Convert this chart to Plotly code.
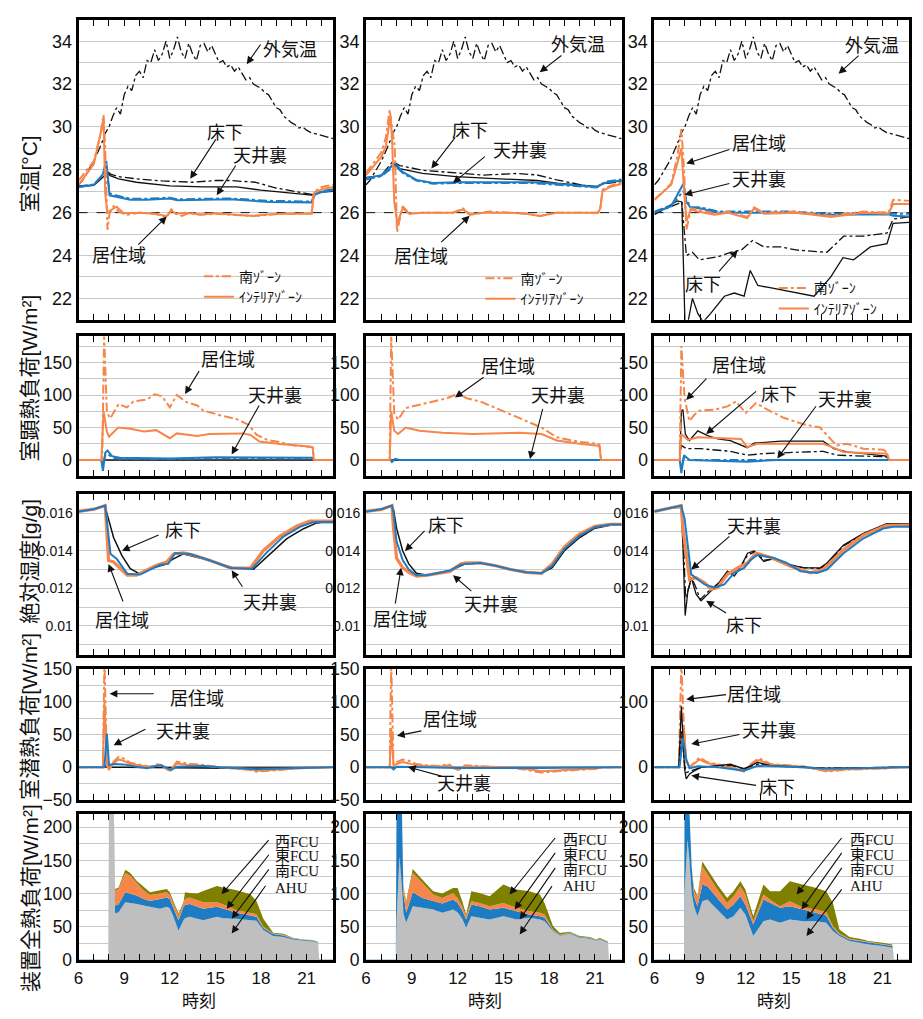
import plotly.graph_objects as go

W, H = 923, 1019
JP = "Noto Sans CJK JP"
SANS = "Liberation Sans, Noto Sans CJK JP"
SERIF = "Liberation Serif, Noto Sans CJK JP"

# ---------------- data ----------------
X_TICKS = [6, 9, 12, 15, 18, 21]

# outdoor air temperature (same day for all cases)
OUT_H = [6.0, 6.25, 6.5, 6.75, 7.0, 7.25, 7.5, 7.75, 8.0, 8.25, 8.5, 8.75, 9.0, 9.25, 9.5, 9.75,
         10.0, 10.25, 10.5, 10.75, 11.0, 11.25, 11.5, 11.75, 12.0, 12.25, 12.5, 12.75, 13.0, 13.25,
         13.5, 13.75, 14.0, 14.25, 14.5, 14.75, 15.0, 15.25, 15.5, 15.75, 16.0, 16.25, 16.5, 16.75,
         17.0, 17.25, 17.5, 17.75, 18.0, 18.25, 18.5, 18.75, 19.0, 19.25, 19.5, 19.75, 20.0, 20.25,
         20.5, 20.75, 21.0, 21.25, 21.5, 21.75, 22.0, 22.25, 22.5, 22.75]
OUT_T = [27.3, 27.5, 27.8, 28.1, 28.4, 28.8, 29.2, 29.7, 30.0, 30.5, 30.9, 30.6, 31.5, 31.9, 31.7, 32.4,
         32.6, 32.3, 33.1, 33.0, 33.6, 33.1, 33.4, 34.0, 33.2, 33.6, 34.2, 33.5, 33.2, 33.9,
         33.4, 33.1, 33.8, 33.9, 33.5, 33.8, 33.4, 33.0, 33.1, 32.8, 32.9, 32.6, 32.8, 32.5,
         32.2, 32.3, 32.0, 31.9, 31.8, 31.6, 31.5, 31.2, 30.9, 30.8, 30.5, 30.35, 30.2, 30.1,
         29.95, 30.0, 29.85, 29.75, 29.7, 29.65, 29.6, 29.55, 29.5, 29.45]
SET_H = [6.0, 22.75]
SET_T = [26.0, 26.0]
ZERO_H = [6.0, 22.75]
ZERO_V = [0.0, 0.0]

# ---- row 1 : room temperature ----
T1_OS_H = [6.0, 7.0, 7.42, 7.64, 7.75, 7.9, 8.04, 8.3, 8.63, 9.2, 10.0, 11.0, 11.5, 11.8, 12.1, 12.4, 12.8,
           13.3, 14.0, 15.0, 16.0, 17.0, 17.5, 18.5, 19.5, 20.5, 21.33, 21.48, 22.0, 22.75]
T1_OS_V = [27.5, 28.4, 29.6, 30.56, 29.0, 25.2, 25.97, 26.3, 26.05, 25.9, 26.0, 25.95, 25.85, 25.8, 26.15,
           25.95, 25.85, 26.0, 25.9, 25.95, 25.9, 25.85, 25.85, 25.9, 25.95, 25.95, 25.97, 26.96, 27.2, 27.3]
T1_OI_H = [6.0, 7.0, 7.53, 7.64, 7.75, 7.9, 8.08, 8.5, 8.96, 10.0, 11.0, 11.8, 12.1, 12.4, 13.0, 14.0,
           15.0, 16.0, 17.0, 17.5, 18.5, 19.5, 21.33, 21.48, 22.0, 22.75]
T1_OI_V = [27.3, 28.27, 29.95, 30.4, 26.9, 25.97, 26.1, 26.28, 25.97, 26.0, 25.95, 25.85, 26.1, 25.95,
           26.0, 25.92, 25.97, 25.92, 25.85, 25.85, 25.92, 25.95, 25.95, 26.9, 27.1, 27.2]
T1_B_H = [6.0, 7.0, 7.6, 7.82, 8.04, 8.5, 9.4, 10.5, 12.0, 12.5, 14.2, 16.0, 18.6, 21.33, 21.55, 22.0, 22.75]
T1_BI_V = [27.2, 27.3, 27.8, 28.42, 26.81, 26.74, 26.6, 26.6, 26.66, 26.58, 26.6, 26.62, 26.5, 26.48,
           26.85, 26.96, 27.05]
T1_BS_V = [27.2, 27.32, 27.75, 28.2, 26.9, 26.8, 26.65, 26.65, 26.7, 26.62, 26.65, 26.66, 26.55, 26.52,
           26.9, 27.0, 27.1]
T1_KI_H = [6.0, 7.0, 7.6, 7.86, 8.08, 8.63, 9.8, 12.0, 14.2, 16.4, 18.0, 20.8, 21.33, 21.55, 22.0, 22.75]
T1_KI_V = [27.2, 27.27, 27.65, 27.88, 27.73, 27.58, 27.42, 27.25, 27.2, 27.2, 27.05, 26.86, 26.82, 26.9,
           26.96, 27.0]
T1_KS_H = [6.0, 7.0, 7.6, 7.86, 8.1, 8.63, 9.8, 11.5, 13.5, 15.0, 16.0, 17.6, 19.0, 20.8, 21.33, 21.55,
           22.0, 22.75]
T1_KS_V = [27.25, 27.3, 27.7, 27.95, 27.8, 27.68, 27.58, 27.48, 27.42, 27.5, 27.5, 27.42, 27.15, 26.9,
           26.85, 26.95, 27.0, 27.05]

T2_OS_H = [6.0, 7.0, 7.3, 7.55, 7.7, 7.88, 8.03, 8.4, 8.85, 9.7, 11.7, 12.35, 12.8, 13.7, 14.1, 15.4,
           16.5, 17.4, 18.5, 21.2, 21.35, 21.5, 22.0, 22.75]
T2_OS_V = [27.85, 28.8, 29.5, 30.8, 30.0, 29.1, 25.1, 26.3, 25.95, 26.0, 26.0, 26.2, 25.9, 26.0, 26.05,
           26.0, 25.95, 25.85, 26.0, 26.0, 26.2, 27.07, 27.25, 27.4]
T2_OI_H = [6.0, 7.0, 7.3, 7.6, 7.7, 7.85, 8.05, 8.4, 8.85, 9.7, 11.7, 12.35, 12.8, 13.7, 15.4, 16.5,
           17.4, 18.5, 21.2, 21.35, 21.5, 22.0, 22.75]
T2_OI_V = [27.75, 28.6, 29.1, 30.5, 29.5, 26.5, 25.5, 26.2, 25.95, 26.0, 26.0, 26.15, 25.92, 26.0, 26.0,
           25.95, 25.85, 26.0, 26.0, 26.2, 27.0, 27.2, 27.35]
T2_KI_H = [6.0, 7.0, 7.77, 8.2, 9.7, 11.9, 14.1, 17.2, 18.5, 21.1, 21.5, 22.75]
T2_KI_V = [27.65, 27.72, 28.25, 28.06, 27.83, 27.68, 27.6, 27.5, 27.38, 27.22, 27.35, 27.5]
T2_KS_H = [6.0, 7.0, 7.77, 8.2, 9.7, 11.0, 12.4, 13.7, 15.9, 17.2, 18.5, 20.65, 21.2, 21.5, 22.75]
T2_KS_V = [27.6, 27.75, 28.4, 28.2, 27.98, 27.9, 27.83, 27.75, 27.83, 27.76, 27.53, 27.22, 27.2, 27.35,
           27.45]
T2_B_H = [6.0, 7.0, 7.9, 8.4, 9.3, 10.4, 11.9, 14.1, 16.9, 18.5, 21.1, 21.7, 22.75]
T2_BI_V = [27.6, 27.75, 28.3, 27.9, 27.53, 27.38, 27.42, 27.42, 27.42, 27.35, 27.2, 27.4, 27.5]
T2_BS_V = [27.55, 27.7, 28.2, 27.85, 27.5, 27.35, 27.38, 27.38, 27.38, 27.3, 27.18, 27.45, 27.55]

T3_O_H = [6.0, 7.1, 7.5, 7.77, 7.95, 8.1, 8.4, 8.85, 9.95, 10.8, 12.1, 12.55, 13.2, 15.4, 17.6, 19.75,
          21.4, 21.7, 22.75]
T3_OS_V = [26.6, 27.35, 28.6, 29.9, 28.0, 25.2, 26.2, 26.15, 25.95, 26.05, 25.8, 26.25, 26.0, 26.05,
           25.85, 26.05, 26.0, 26.6, 26.55]
T3_OI_V = [26.6, 27.3, 28.3, 29.0, 27.0, 25.6, 26.15, 26.05, 25.9, 26.0, 25.75, 26.2, 25.95, 26.0, 25.8,
           26.0, 25.95, 26.4, 26.4]
T3_B_H = [6.0, 7.1, 7.9, 8.1, 8.4, 9.0, 10.2, 12.0, 15.0, 17.6, 21.4, 21.7, 22.75]
T3_BI_V = [26.0, 26.3, 27.35, 26.5, 26.2, 26.2, 26.0, 26.0, 26.0, 25.9, 25.92, 25.85, 25.82]
T3_BS_V = [26.05, 26.35, 27.0, 26.6, 26.25, 26.25, 26.05, 26.05, 26.05, 25.95, 26.0, 25.95, 25.95]
T3_KI_H = [6.0, 7.5, 7.8, 8.0, 8.1, 8.5, 8.85, 9.2, 9.7, 10.6, 11.25, 11.9, 12.3, 12.8, 13.6, 14.7,
           16.5, 17.6, 18.4, 19.1, 20.2, 21.3, 21.7, 22.75]
T3_KI_V = [25.9, 26.55, 26.5, 21.0, 20.5, 22.0, 21.3, 20.9, 21.3, 22.1, 22.25, 22.1, 23.3, 22.6, 22.5,
           22.35, 22.1, 23.0, 23.9, 23.8, 24.4, 24.55, 25.5, 25.55]
T3_KS_H = [6.0, 7.8, 8.1, 8.5, 8.95, 10.2, 11.0, 11.7, 12.45, 13.2, 14.3, 15.4, 17.35, 18.45, 19.7,
           21.3, 21.7, 22.75]
T3_KS_V = [25.95, 26.5, 24.0, 24.15, 23.8, 23.95, 24.15, 24.25, 24.7, 24.4, 24.4, 24.25, 24.15, 24.9,
           24.9, 25.05, 25.7, 25.8]

# ---- row 2 : sensible load ----
S1_OS_H = [6.0, 7.55, 7.68, 7.86, 8.08, 8.63, 9.17, 9.6, 10.5, 11.0, 11.5, 12.0, 12.46, 13.1, 13.8,
           14.2, 15.3, 16.4, 17.2, 17.7, 18.4, 19.25, 20.1, 21.2, 21.4, 21.48, 22.75]
S1_OS_V = [0, 0, 192, 73.8, 64, 86, 81, 90, 93, 101, 98, 81, 100, 89, 84, 76, 69, 63, 54, 39, 31,
           27.6, 22.6, 21, 19.6, 0, 0]
S1_OI_H = [6.0, 7.5, 7.64, 7.86, 8.0, 8.6, 9.4, 10.3, 11.1, 12.0, 12.46, 13.8, 14.6, 16.8, 17.3, 17.9,
           19.25, 21.2, 21.4, 21.48, 22.75]
S1_OI_V = [0, 0, 75, 43.6, 36, 50, 48, 44, 46, 33.6, 41, 37, 40, 41, 38.6, 28.6, 24.6, 21, 19, 0, 0]
S1_B_H = [6.0, 7.5, 7.6, 7.75, 7.9, 8.2, 8.7, 12.0, 15.0, 17.0, 21.4, 21.48, 22.75]
S1_BI_V = [0, 0, -16.6, 11, 14.6, 6, 3.5, 2.5, 4.5, 4.5, 3.5, 0, 0]
S1_BS_V = [0, 0, -12, 8, 10, 4, 2, 1.5, 3, 3, 2.5, 0, 0]

S2_OS_H = [6.0, 7.55, 7.65, 7.85, 8.1, 8.6, 9.5, 10.5, 11.3, 12.0, 12.6, 13.5, 14.5, 15.5, 16.5, 17.5,
           18.5, 20.0, 21.2, 21.3, 21.4, 22.75]
S2_OS_V = [0, 0, 190, 72, 62, 80, 85, 90, 95, 102, 95, 90, 80, 70, 60, 50, 35, 28, 25, 23, 0, 0]
S2_OI_H = [6.0, 7.55, 7.65, 7.85, 8.1, 8.6, 9.5, 11.0, 13.0, 16.0, 17.5, 18.5, 20.0, 21.2, 21.3, 21.4,
           22.75]
S2_OI_V = [0, 0, 75, 45, 40, 50, 45, 42, 40, 42, 40, 30, 25, 22, 20, 0, 0]
S2_B_H = [6.0, 7.6, 7.7, 7.9, 8.2, 22.75]
S2_B_V = [0, 0, -3, 2, 0, 0]

S3_OS_H = [6.0, 7.66, 7.77, 7.98, 8.3, 8.64, 8.96, 9.94, 10.8, 11.36, 12.0, 12.67, 13.65, 14.5, 15.8,
           16.9, 17.57, 18.0, 18.66, 19.75, 21.05, 21.27, 21.45, 22.75]
S3_OS_V = [0, 0, 175, 95, 60, 70, 76, 77.5, 82.5, 90, 72.5, 87.5, 75, 65, 55, 50, 32.5, 22.5, 25, 17.5,
           16, 12.5, 0, 0]
S3_OI_H = [6.0, 7.66, 7.77, 8.2, 8.85, 9.94, 11.7, 12.1, 12.78, 15.0, 17.1, 17.57, 18.44, 19.75, 21.27,
           21.45, 22.75]
S3_OI_V = [0, 0, 40, 31, 35, 34, 32.5, 20, 25, 25, 25, 21, 12.5, 11, 10, 0, 0]
S3_KI_H = [6.0, 7.66, 7.77, 7.87, 8.03, 8.3, 8.85, 9.5, 10.16, 11.0, 12.1, 12.56, 14.3, 17.1, 17.8,
           18.66, 19.75, 21.27, 21.45, 22.75]
S3_KI_V = [0, 0, 75, 77.5, 40, 30, 45, 37.5, 32.5, 30, 19, 26, 29, 29, 17.5, 12.5, 10, 6, 0, 0]
S3_KS_H = [6.0, 7.66, 7.77, 8.1, 9.0, 11.0, 12.1, 13.2, 17.1, 18.0, 21.27, 21.45, 22.75]
S3_KS_V = [0, 0, 22.5, 17.5, 17.5, 13.5, 7.5, 10, 13.5, 7.5, 5, 0, 0]
S3_B_H = [6.0, 7.66, 7.77, 7.94, 8.3, 10.0, 12.1, 14.0, 21.45, 22.75]
S3_BI_V = [0, 0, -20, 7.5, 0, -1, -2.5, 0, 0, 0]
S3_BS_V = [0, 0, -12, 4, 0, 0, -1, 0, 0, 0]

# ---- row 3 : absolute humidity ----
X1_O_H = [6.0, 7.0, 7.75, 7.86, 7.97, 8.3, 8.74, 9.2, 9.8, 10.5, 11.1, 11.8, 12.24, 12.9, 13.55, 14.65,
          16.0, 17.3, 18.15, 19.25, 20.34, 21.2, 22.0, 22.75]
X1_O_V = [0.01609, 0.01621, 0.0164, 0.0146, 0.01348, 0.0134, 0.01304, 0.0127, 0.0127, 0.01296, 0.01322,
          0.0134, 0.01383, 0.01388, 0.01377, 0.01348, 0.01308, 0.01308, 0.0140, 0.01478, 0.0153,
          0.01557, 0.01557, 0.01557]
X1_B_H = [6.0, 7.0, 7.75, 7.86, 8.1, 8.5, 9.2, 10.05, 10.7, 11.36, 11.9, 12.35, 13.3, 14.65, 16.0, 17.4,
          18.37, 19.47, 20.56, 21.4, 22.0, 22.75]
X1_B_V = [0.01609, 0.01621, 0.0164, 0.01565, 0.01383, 0.01357, 0.01278, 0.01273, 0.013, 0.01325, 0.0133,
          0.01388, 0.01383, 0.01348, 0.01308, 0.01304, 0.0139, 0.01475, 0.01527, 0.01551, 0.01553,
          0.01553]
X1_K_H = [6.0, 7.0, 7.75, 7.86, 8.3, 8.85, 9.4, 10.05, 10.7, 11.6, 12.24, 12.9, 14.2, 16.2, 17.5, 18.6,
          19.7, 20.8, 21.66, 22.0, 22.75]
X1_K_V = [0.01609, 0.01621, 0.0164, 0.016, 0.0147, 0.01374, 0.01304, 0.01275, 0.01304, 0.01325, 0.01357,
          0.01383, 0.01357, 0.01308, 0.01301, 0.01383, 0.01464, 0.01517, 0.01548, 0.0155, 0.0155]

X2_H = [6.0, 7.0, 7.7, 7.8, 8.0, 8.4, 8.8, 9.3, 10.0, 10.7, 11.5, 12.2, 12.5, 13.5, 14.5, 15.5, 16.5,
        17.5, 18.2, 19.0, 20.0, 21.0, 22.0, 22.75]
X2_O_V = [0.01609, 0.0162, 0.0164, 0.0152, 0.0136, 0.0131, 0.01285, 0.01265, 0.0127, 0.0128, 0.0129,
          0.0133, 0.01335, 0.01335, 0.0132, 0.0130, 0.01285, 0.0128, 0.0133, 0.0142, 0.0149, 0.0153,
          0.0154, 0.0154]
X2_B_V = [0.01609, 0.0162, 0.0164, 0.0160, 0.0145, 0.0135, 0.0130, 0.0127, 0.0127, 0.0128, 0.01295,
          0.01325, 0.0133, 0.01335, 0.0132, 0.0130, 0.01285, 0.0128, 0.0132, 0.0141, 0.0148, 0.01525,
          0.0154, 0.0154]
X2_K_V = [0.01609, 0.0162, 0.0164, 0.0162, 0.0152, 0.0140, 0.0133, 0.0128, 0.0127, 0.0128, 0.0129,
          0.0132, 0.0133, 0.01335, 0.0132, 0.0130, 0.01285, 0.0128, 0.0131, 0.0140, 0.0147, 0.0152,
          0.01535, 0.01535]

X3_B_H = [6.0, 7.1, 7.76, 7.98, 8.2, 8.42, 8.85, 9.3, 9.94, 10.6, 11.25, 11.9, 12.34, 12.78, 13.86,
          14.7, 15.6, 16.7, 17.35, 18.44, 19.75, 21.05, 21.7, 22.75]
X3_B_V = [0.01609, 0.01626, 0.0164, 0.0157, 0.0143, 0.01274, 0.01247, 0.01221, 0.01204, 0.01221,
          0.01282, 0.01309, 0.01352, 0.01378, 0.01361, 0.01335, 0.01291, 0.01282, 0.013, 0.01387,
          0.01466, 0.01518, 0.01527, 0.01527]
X3_O_H = [6.0, 7.1, 7.76, 7.87, 8.09, 8.31, 8.74, 9.3, 9.73, 10.16, 10.8, 11.47, 12.12, 12.67, 13.65,
          14.95, 16.26, 17.1, 18.44, 19.75, 21.27, 22.75]
X3_O_V = [0.01609, 0.01626, 0.0164, 0.01518, 0.01378, 0.01247, 0.01256, 0.0123, 0.01195, 0.01204,
          0.01274, 0.01309, 0.01335, 0.01387, 0.01364, 0.01317, 0.01282, 0.013, 0.01405, 0.01483,
          0.01535, 0.01535]
X3_KI_H = [6.0, 7.1, 7.76, 7.87, 8.02, 8.2, 8.42, 8.74, 9.07, 9.5, 10.16, 10.8, 11.25, 11.7, 12.12,
           12.56, 13.2, 13.86, 14.72, 15.8, 16.9, 17.35, 18.44, 19.75, 21.27, 22.75]
X3_KI_V = [0.01609, 0.01626, 0.0163, 0.01431, 0.01055, 0.01186, 0.01256, 0.01169, 0.01134, 0.01169,
           0.01221, 0.01291, 0.01265, 0.01317, 0.01387, 0.01399, 0.01343, 0.01361, 0.0133, 0.01309,
           0.01309, 0.01335, 0.0143, 0.01492, 0.01544, 0.01542]
X3_KS_H = [6.0, 7.1, 7.76, 7.9, 8.05, 8.25, 8.45, 8.75, 9.0, 9.5, 10.16, 10.8, 11.3, 11.7, 12.12, 12.6,
           13.2, 13.86, 14.72, 15.8, 16.9, 17.35, 18.44, 19.75, 21.27, 22.75]
X3_KS_V = [0.01609, 0.01626, 0.0164, 0.0145, 0.0115, 0.0120, 0.01256, 0.0120, 0.0114, 0.0118, 0.01225,
           0.0128, 0.0128, 0.0132, 0.01375, 0.01395, 0.0135, 0.01355, 0.01328, 0.0131, 0.01305,
           0.0133, 0.01425, 0.01488, 0.0154, 0.0154]

# ---- row 4 : latent load ----
L1_O_H = [6.0, 7.6, 7.7, 7.86, 8.0, 8.3, 8.63, 8.96, 9.4, 10.3, 10.7, 11.36, 12.0, 12.46, 13.1, 14.2,
          15.3, 17.3, 17.7, 19.7, 21.2, 21.4, 22.75]
L1_OS_V = [0, 0, 165, 6, -4, 8.6, 16, 13.6, 7, 3.5, 1, 6, -6.6, 8.6, 6, 3.5, 0, -4, -6.6, -3, 0, 0, 0]
L1_OI_V = [0, 0, 100, 3, -3, 6, 12, 10, 5, 2.5, 0.5, 4, -5, 6, 4, 2.5, 0, -3, -5, -2.5, 0, 0, 0]
L1_B_H = [6.0, 7.7, 7.86, 8.0, 8.3, 8.96, 9.8, 10.5, 11.36, 12.1, 12.46, 14.2, 15.3, 17.3, 17.7, 20.5,
          22.75]
L1_B_V = [0, 0, 51.5, 3.5, 5, 4.5, 1, -1.5, 3.5, -4, 1, 2, 0, -3, -3, -1, 0]
L1_K_H = [6.0, 7.7, 7.86, 8.0, 9.0, 12.0, 17.5, 22.75]
L1_K_V = [0, 0, 3.5, 0, 0, -1, -2, 0]

L2_O_H = [6.0, 7.55, 7.65, 7.8, 8.0, 8.4, 8.8, 9.3, 10.0, 10.8, 11.4, 12.0, 12.5, 13.2, 14.0, 15.0,
          16.0, 17.0, 17.5, 18.5, 19.5, 20.5, 21.3, 21.4, 22.75]
L2_OS_V = [0, 0, 160, 5, 8, 12, 10, 5, 3, 2, 5, -5, 3, 2, 2, 0, -2, -6, -8, -6, -4, -3, -2, 0, 0]
L2_OI_V = [0, 0, 60, 3, 5, 8, 6, 3, 2, 1, 3, -4, 2, 1, 1, 0, -1, -4, -6, -5, -3, -2, -1, 0, 0]
L2_B_H = [6.0, 7.65, 7.8, 8.0, 9.0, 12.0, 17.5, 22.75]
L2_B_V = [0, 0, -3, 1, 0.5, -1, -1, 0]

L3_O_H = [6.0, 7.6, 7.77, 7.94, 8.09, 8.31, 8.96, 9.5, 10.16, 11.0, 11.9, 12.34, 12.88, 13.65, 14.74,
          15.8, 17.35, 18.66, 21.4, 21.5, 22.75]
L3_OS_V = [0, 0, 160, 58, 7.6, 0, 15, 7.6, 5, 0, -6.5, 5, 14, 5, 3.5, 1.5, -6.5, -3.5, -1.5, 0, 0]
L3_OI_V = [0, 0, 40, 60, 10, 0, 12, 6, 4, 0, -5, 4, 11, 4, 3, 1, -5, -3, -1, 0, 0]
L3_K_H = [6.0, 7.6, 7.77, 7.98, 8.09, 8.31, 8.64, 9.07, 10.16, 11.0, 11.9, 12.78, 13.65, 17.35, 21.4,
          22.75]
L3_KI_V = [0, 0, 93, -2.5, -17.7, -10, -5, 0, 2.5, 5, -2.5, 7.6, 2.5, -1.5, 0, 0]
L3_KS_V = [0, 0, 55, 5, -8, -6, -3, 0, 2, 3, -2, 5, 2, -1, 0, 0]
L3_B_H = [6.0, 7.65, 7.87, 8.09, 8.31, 8.85, 10.2, 11.9, 12.78, 15.0, 17.35, 21.4, 22.75]
L3_B_V = [0, 0, 45, 12.6, -1.5, 1.5, 0, -5, 2.5, 1, -2, 0, 0]

# ---- row 5 : equipment total load (stacked) ----
H5_1 = [6.0, 7.95, 8.0, 8.3, 8.4, 8.63, 9.07, 9.4, 9.83, 10.27, 10.7, 11.36, 11.8, 12.0, 12.24, 12.57,
        12.9, 13.0, 13.3, 13.8, 14.2, 15.1, 15.5, 16.4, 17.3, 17.7, 18.15, 18.8, 19.47, 20.1, 20.8,
        21.4, 21.76, 21.83, 22.75]
AHU1 = [0, 0, 235, 235, 70, 72, 87, 86, 84.5, 82, 80, 77, 80, 78, 65, 44, 60, 63, 65, 62, 60, 65, 63,
        62, 60, 59, 45, 36, 34.5, 31, 29, 28, 25.5, 0, 0]
SFCU1 = [0, 0, 15, 15, 12, 12, 15, 14, 12.5, 10, 9, 15, 14, 14, 14, 16, 20, 20, 19.5, 18, 17, 15, 14,
         9, 7, 6, 3, 3, 2.5, 1.5, 1, 1, 1, 0, 0]
EFCU1 = [0, 0, 0, 0, 23, 23, 29, 27, 19, 13, 9, 8, 8, 6, 7, 7, 4.5, 9, 9.5, 10, 10, 7, 7, 4, 4, 4, 2,
         1, 1, 0.5, 0.5, 0.5, 0, 0, 0]
WFCU1 = [0, 0, 0, 0, 2, 2, 5, 4, 3, 5, 4, 5, 5, 4, 3, 3, 2.5, 10, 7, 10, 17, 24.5, 25, 30, 28, 20, 12,
         1, 1.5, 0.5, 0.5, 0.5, 0.5, 0, 0]

H5_2 = [6.0, 7.95, 8.0, 8.19, 8.35, 8.45, 8.63, 9.06, 9.7, 10.4, 11.0, 11.7, 12.0, 12.3, 12.56, 12.9,
        13.44, 14.1, 15.0, 15.85, 16.7, 17.4, 17.7, 18.25, 18.7, 19.35, 20.0, 20.66, 21.1, 21.3, 21.86,
        21.92, 22.75]
AHU2 = [0, 0, 60, 156, 110, 70, 56, 81, 78.5, 76, 71, 76, 72, 62, 48.5, 66, 63.5, 61, 66, 61, 63.5, 61,
        58.5, 43.5, 36, 39.5, 33.5, 32, 28.5, 31, 26, 0, 0]
SFCU2 = [0, 0, 180, 80, 120, 30, 15, 21, 15, 12.5, 14, 15, 14, 13, 12.5, 17.5, 17.5, 15, 12.5, 12.5,
         5, 5, 5, 1.5, 1, 1, 1, 1, 1, 1, 1, 0, 0]
EFCU2 = [0, 0, 0, 0, 0, 10, 15, 29, 22.5, 10, 8.5, 10, 7.5, 6, 5, 5, 5, 5, 7.5, 5, 5, 5, 5, 1, 1, 1,
         0.5, 0.5, 0.5, 0.5, 0.5, 0, 0]
WFCU2 = [0, 0, 0, 0, 0, 2, 2.5, 6, 5, 5, 6.5, 7.5, 15, 8, 2.5, 15, 15, 15, 27.5, 27.5, 30, 27.5, 17.5,
         5, 2.5, 1, 1, 1, 1, 1, 0.5, 0, 0]

H5_3 = [6.0, 7.94, 7.98, 8.17, 8.28, 8.45, 8.6, 8.83, 9.15, 9.48, 10.13, 10.78, 11.2, 11.65, 11.98,
        12.5, 13.17, 13.6, 14.26, 14.9, 15.8, 16.65, 17.3, 17.74, 18.17, 18.83, 19.5, 20.1, 21.0, 21.65,
        21.76, 22.75]
AHU3 = [0, 0, 100, 181, 156, 100, 81, 66, 88.5, 91, 76, 61, 66, 78.5, 68.5, 36, 58.5, 61, 56, 61, 58.5,
        58.5, 56, 43.5, 36, 28.5, 26, 23.5, 21, 18.5, 0, 0]
SFCU3 = [0, 0, 140, 60, 80, 40, 15, 15, 25, 20, 17.5, 15, 17.5, 17.5, 15, 17.5, 32.5, 25, 22.5, 20,
         17.5, 12.5, 11, 5, 2.5, 2.5, 2.5, 2.5, 2.5, 2.5, 0, 0]
EFCU3 = [0, 0, 0, 0, 0, 0, 7.5, 12.5, 27.5, 17.5, 12.5, 10, 12.5, 15, 15, 5, 7.5, 5, 2.5, 7.5, 2.5, 5,
         5, 2.5, 1.5, 1, 1, 1, 1, 1, 0, 0]
WFCU3 = [0, 0, 0, 0, 0, 0, 5, 2.5, 7.5, 7.5, 7.5, 7.5, 7.5, 7.5, 7.5, 7.5, 15, 12.5, 22.5, 30, 35, 32.5,
         31.5, 35, 6, 2.5, 2.5, 1.5, 1.5, 1.5, 0, 0]

ROW_TITLES = ["室温[°C]", "室顕熱負荷[W/m²]", "絶対湿度[g/g]", "室潜熱負荷[W/m²]", "装置全熱負荷[W/m²]"]
LEGEND_NAMES = ["南ｿﾞｰﾝ", "ｲﾝﾃﾘｱｿﾞｰﾝ"]
STACK_NAMES = ["AHU", "南FCU", "東FCU", "西FCU"]

# ---------------- styling / layout ----------------
ORANGE = "#F7864A"
BLUE = "#1D7CC4"
BLACK = "#111111"
OLIVE = "#7F7F00"
GRAY = "#BFBFBF"

COLS_PX = [(74, 330), (363, 620), (653, 909)]
ROWS_PX = [(10, 316), (333, 475), (494, 658), (672, 806), (820, 969)]

fig = go.Figure()


def axn(r, c):
    return r * 3 + c + 1


def refs(r, c):
    n = axn(r, c)
    return ("x" if n == 1 else f"x{n}"), ("y" if n == 1 else f"y{n}")


def line(r, c, h, v, color, dash="solid", width=2.0, name="", legend=None):
    xr, yr = refs(r, c)
    fig.add_trace(go.Scatter(x=h, y=v, mode="lines", xaxis=xr, yaxis=yr, name=name,
                             line=dict(color=color, dash=dash, width=width),
                             showlegend=legend is not None, legend=legend or "legend",
                             hoverinfo="skip"))


def stack(c, h, layers, colors, group):
    xr, yr = refs(4, c)
    for nm, vals, col in zip(STACK_NAMES, layers, colors):
        fig.add_trace(go.Scatter(x=h, y=vals, mode="lines", xaxis=xr, yaxis=yr, name=nm,
                                 stackgroup=group, fillcolor=col,
                                 line=dict(color=col, width=0), showlegend=False,
                                 hoverinfo="skip"))


LEGS_S = ["legend", "legend2", "legend3"]
LEGS_I = ["legend4", "legend5", "legend6"]

# row 1
for c, (osh, osv, oih, oiv) in enumerate([(T1_OS_H, T1_OS_V, T1_OI_H, T1_OI_V),
                                          (T2_OS_H, T2_OS_V, T2_OI_H, T2_OI_V),
                                          (T3_O_H, T3_OS_V, T3_O_H, T3_OI_V)]):
    line(0, c, SET_H, SET_T, BLACK, "dash", 1.0)
    line(0, c, OUT_H, OUT_T, BLACK, "dashdot", 1.3)
    if c == 0:
        line(0, c, T1_KS_H, T1_KS_V, BLACK, "dashdot", 1.3)
        line(0, c, T1_KI_H, T1_KI_V, BLACK, "solid", 1.3)
        line(0, c, T1_B_H, T1_BS_V, BLUE, "dashdot", 2.0)
        line(0, c, T1_B_H, T1_BI_V, BLUE, "solid", 2.0)
    elif c == 1:
        line(0, c, T2_KS_H, T2_KS_V, BLACK, "dashdot", 1.3)
        line(0, c, T2_KI_H, T2_KI_V, BLACK, "solid", 1.3)
        line(0, c, T2_B_H, T2_BS_V, BLUE, "dashdot", 2.0)
        line(0, c, T2_B_H, T2_BI_V, BLUE, "solid", 2.0)
    else:
        line(0, c, T3_KS_H, T3_KS_V, BLACK, "dashdot", 1.3)
        line(0, c, T3_KI_H, T3_KI_V, BLACK, "solid", 1.3)
        line(0, c, T3_B_H, T3_BS_V, BLUE, "dashdot", 2.0)
        line(0, c, T3_B_H, T3_BI_V, BLUE, "solid", 2.0)
    line(0, c, osh, osv, ORANGE, "dashdot", 2.0, LEGEND_NAMES[0], LEGS_S[c])
    line(0, c, oih, oiv, ORANGE, "solid", 2.0, LEGEND_NAMES[1], LEGS_I[c])

# row 2
line(1, 0, ZERO_H, ZERO_V, BLACK, "solid", 1.5)
line(1, 0, S1_B_H, S1_BS_V, BLUE, "dashdot", 2.0)
line(1, 0, S1_B_H, S1_BI_V, BLUE, "solid", 2.0)
line(1, 0, S1_OS_H, S1_OS_V, ORANGE, "dashdot", 2.0)
line(1, 0, S1_OI_H, S1_OI_V, ORANGE, "solid", 2.0)
line(1, 1, ZERO_H, ZERO_V, BLACK, "solid", 1.5)
line(1, 1, S2_B_H, S2_B_V, BLUE, "solid", 2.0)
line(1, 1, S2_OS_H, S2_OS_V, ORANGE, "dashdot", 2.0)
line(1, 1, S2_OI_H, S2_OI_V, ORANGE, "solid", 2.0)
line(1, 2, S3_KS_H, S3_KS_V, BLACK, "dashdot", 1.3)
line(1, 2, S3_KI_H, S3_KI_V, BLACK, "solid", 1.3)
line(1, 2, S3_B_H, S3_BS_V, BLUE, "dashdot", 2.0)
line(1, 2, S3_B_H, S3_BI_V, BLUE, "solid", 2.0)
line(1, 2, S3_OS_H, S3_OS_V, ORANGE, "dashdot", 2.0)
line(1, 2, S3_OI_H, S3_OI_V, ORANGE, "solid", 2.0)

# row 3
line(2, 0, X1_K_H, X1_K_V, BLACK, "solid", 1.5)
line(2, 0, X1_O_H, X1_O_V, ORANGE, "solid", 3.2)
line(2, 0, X1_B_H, X1_B_V, BLUE, "solid", 2.0)
line(2, 1, X2_H, X2_K_V, BLACK, "solid", 1.5)
line(2, 1, X2_H, X2_O_V, ORANGE, "solid", 3.2)
line(2, 1, X2_H, X2_B_V, BLUE, "solid", 2.0)
line(2, 2, X3_KS_H, X3_KS_V, BLACK, "dashdot", 1.3)
line(2, 2, X3_KI_H, X3_KI_V, BLACK, "solid", 1.3)
line(2, 2, X3_O_H, X3_O_V, ORANGE, "solid", 3.2)
line(2, 2, X3_B_H, X3_B_V, BLUE, "solid", 2.0)

# row 4
line(3, 0, ZERO_H, ZERO_V, "#444444", "solid", 1.5)
line(3, 0, L1_K_H, L1_K_V, BLACK, "solid", 1.3)
line(3, 0, L1_O_H, L1_OS_V, ORANGE, "dashdot", 2.0)
line(3, 0, L1_O_H, L1_OI_V, ORANGE, "solid", 2.0)
line(3, 0, L1_B_H, L1_B_V, BLUE, "solid", 2.0)
line(3, 1, ZERO_H, ZERO_V, "#444444", "solid", 1.5)
line(3, 1, L2_O_H, L2_OS_V, ORANGE, "dashdot", 2.0)
line(3, 1, L2_O_H, L2_OI_V, ORANGE, "solid", 2.0)
line(3, 1, L2_B_H, L2_B_V, BLUE, "solid", 2.0)
line(3, 2, L3_O_H, L3_OS_V, ORANGE, "dashdot", 2.0)
line(3, 2, L3_O_H, L3_OI_V, ORANGE, "solid", 2.0)
line(3, 2, L3_K_H, L3_KS_V, BLACK, "dashdot", 1.3)
line(3, 2, L3_K_H, L3_KI_V, BLACK, "solid", 1.3)
line(3, 2, L3_B_H, L3_B_V, BLUE, "solid", 2.0)

# row 5 (zero baseline then stacks)
for c in range(3):
    line(4, c, ZERO_H, ZERO_V, "#7FA7C9", "solid", 1.2)
STACK_COLORS = [GRAY, BLUE, ORANGE, OLIVE]
stack(0, H5_1, [AHU1, SFCU1, EFCU1, WFCU1], STACK_COLORS, "s1")
stack(1, H5_2, [AHU2, SFCU2, EFCU2, WFCU2], STACK_COLORS, "s2")
stack(2, H5_3, [AHU3, SFCU3, EFCU3, WFCU3], STACK_COLORS, "s3")

# axes
Y_SPECS = [
    dict(range=[21, 35], dtick=2, tick0=0, minor=dict(dtick=1, showgrid=True, gridcolor="#C8C8C8"), size=18),
    dict(range=[-24, 190], dtick=50, tick0=0, minor=dict(dtick=25, showgrid=True, gridcolor="#C8C8C8"), size=17.5),
    dict(range=[0.00845, 0.0170], tickmode="array", tickvals=[0.010, 0.012, 0.014, 0.016],
         ticktext=["0.01", "0.012", "0.014", "0.016"],
         minor=dict(tickmode="linear", tick0=0, dtick=0.001, showgrid=True, gridcolor="#C8C8C8"), size=14),
    dict(range=[-50, 150], dtick=50, tick0=0, minor=dict(dtick=25, showgrid=True, gridcolor="#C8C8C8"), size=17.5),
    dict(range=[0, 220], dtick=50, tick0=0, minor=dict(dtick=25, showgrid=True, gridcolor="#C8C8C8"), size=17.5),
]

layout = dict(width=W, height=H, margin=dict(l=0, r=0, t=0, b=0), paper_bgcolor="white",
              plot_bgcolor="white", font=dict(family=SANS, color="#111111"))
for r in range(5):
    for c in range(3):
        n = axn(r, c)
        xk = "xaxis" if n == 1 else f"xaxis{n}"
        yk = "yaxis" if n == 1 else f"yaxis{n}"
        x0, x1 = COLS_PX[c]
        y0, y1 = ROWS_PX[r]
        xr, yr = refs(r, c)
        layout[xk] = dict(domain=[x0 / W, x1 / W], anchor=yr, range=[6, 22.75], showgrid=False,
                          zeroline=False, showline=True, linewidth=3, linecolor="black",
                          mirror="allticks", ticks="inside", ticklen=6, tickwidth=1, tickcolor="black",
                          tickmode="array", tickvals=X_TICKS, ticklabelstandoff=1,
                          minor=dict(dtick=1, tick0=6, ticks="inside", ticklen=6, tickcolor="black"),
                          showticklabels=(r == 4), tickfont=dict(size=17, family=SANS, color="#111"))
        spec = dict(Y_SPECS[r])
        size = spec.pop("size")
        if r == 3 and c == 2:
            spec["dtick"] = 100
            spec["minor"] = dict(dtick=50, showgrid=True, gridcolor="#C8C8C8")
        layout[yk] = dict(domain=[1 - y1 / H, 1 - y0 / H], anchor=xr, showgrid=True,
                          gridcolor="#C8C8C8", gridwidth=1, zeroline=False, showline=True,
                          linewidth=3, linecolor="black", mirror=True, ticks="",
                          tickfont=dict(size=size, family=SANS, color="#111"), **spec)

# legends: one entry each, placed like the reference
LEG_S_POS = [(195, 272), (478, 274), (773, 284)]
LEG_I_POS = [(195, 293), (478, 295), (773, 305)]
for keys, poss in ((LEGS_S, LEG_S_POS), (LEGS_I, LEG_I_POS)):
    for k, (lx, ly) in zip(keys, poss):
        layout[k] = dict(x=lx / W, y=1 - ly / H, xanchor="left", yanchor="middle",
                         bgcolor="rgba(0,0,0,0)", font=dict(family=JP, size=14, color="#111"),
                         tracegroupgap=0, itemwidth=30, traceorder="normal")

ann = []


def label(r, c, h, v, text, size=18, family=JP, xanchor="center"):
    xr, yr = refs(r, c)
    ann.append(dict(x=h, y=v, xref=xr, yref=yr, text=text, showarrow=False, xanchor=xanchor,
                    yanchor="middle", font=dict(size=size, family=family, color="#111")))


def arrow(r, c, th, tv, hh, hv):
    xr, yr = refs(r, c)
    ann.append(dict(x=hh, y=hv, xref=xr, yref=yr, ax=th, ay=tv, axref=xr, ayref=yr, text="",
                    showarrow=True, arrowhead=2, arrowsize=1.4, arrowwidth=1.1, arrowcolor="#111"))


# row 1 labels
label(0, 0, 19.9, 33.69, "外気温"); arrow(0, 0, 18.04, 33.92, 17.06, 32.93)
label(0, 0, 15.63, 29.8, "床下"); arrow(0, 0, 15.09, 29.49, 13.34, 27.58)
label(0, 0, 17.93, 28.72, "天井裏"); arrow(0, 0, 16.4, 28.27, 15.09, 26.81)
label(0, 0, 8.63, 24.06, "居住域"); arrow(0, 0, 9.83, 24.44, 11.8, 25.82)
label(0, 1, 19.89, 33.92, "外気温"); arrow(0, 1, 18.9, 33.39, 17.38, 32.55)
label(0, 1, 12.79, 29.89, "床下"); arrow(0, 1, 11.92, 29.58, 10.28, 28.06)
label(0, 1, 16.07, 28.97, "天井裏"); arrow(0, 1, 13.88, 28.67, 11.7, 27.38)
label(0, 1, 9.62, 24.03, "居住域"); arrow(0, 1, 10.83, 24.56, 12.79, 25.85)
label(0, 2, 20.29, 33.85, "外気温"); arrow(0, 2, 19.53, 33.39, 18.11, 32.48)
label(0, 2, 12.88, 29.28, "居住域"); arrow(0, 2, 11.03, 28.97, 8.09, 28.29)
label(0, 2, 12.88, 27.6, "天井裏"); arrow(0, 2, 11.03, 27.38, 7.98, 26.84)
label(0, 2, 9.18, 22.73, "床下"); arrow(0, 2, 10.16, 23.19, 11.47, 24.25)
# row 2
label(1, 0, 15.85, 156.5, "居住域"); arrow(1, 0, 13.99, 139, 13.0, 101.4)
label(1, 0, 18.92, 101.4, "天井裏"); arrow(1, 0, 17.93, 86.3, 16.07, 8.5)
label(1, 1, 15.3, 146, "居住域"); arrow(1, 1, 13.8, 129, 11.83, 96)
label(1, 1, 18.57, 102, "天井裏"); arrow(1, 1, 17.6, 81, 16.74, 1.5)
label(1, 2, 11.58, 147.5, "居住域"); arrow(1, 2, 9.51, 127.5, 8.09, 92.5)
label(1, 2, 14.19, 102.5, "床下"); arrow(1, 2, 12.78, 107.5, 9.4, 40)
label(1, 2, 18.55, 95, "天井裏"); arrow(1, 2, 16.7, 85, 14.08, 2.5)
# row 3
label(2, 0, 12.9, 0.01513, "床下"); arrow(2, 0, 11.36, 0.01487, 8.85, 0.0140)
label(2, 0, 8.85, 0.01035, "居住域"); arrow(2, 0, 8.96, 0.01122, 7.97, 0.0133)
label(2, 0, 18.59, 0.0113, "天井裏"); arrow(2, 0, 16.84, 0.0120, 16.07, 0.01296)
label(2, 1, 11.24, 0.01544, "床下"); arrow(2, 1, 9.93, 0.01513, 8.55, 0.01398)
label(2, 1, 8.23, 0.01044, "居住域"); arrow(2, 1, 7.9, 0.01111, 8.3, 0.0131)
label(2, 1, 14.19, 0.01122, "天井裏"); arrow(2, 1, 13.0, 0.01178, 11.7, 0.0127)
label(2, 2, 12.56, 0.01535, "天井裏"); arrow(2, 2, 11.03, 0.01483, 8.42, 0.0130)
label(2, 2, 11.9, 0.01012, "床下"); arrow(2, 2, 10.81, 0.01064, 9.4, 0.01134)
# row 4
label(3, 0, 13.77, 107, "居住域"); arrow(3, 0, 11.04, 112, 8.04, 112)
label(3, 0, 12.9, 56.6, "天井裏"); arrow(3, 0, 10.49, 59, 8.3, 33.8)
label(3, 1, 11.5, 75, "居住域"); arrow(3, 1, 9.73, 56, 8.03, 48)
label(3, 1, 12.42, -22, "天井裏"); arrow(3, 1, 11.04, -14, 8.75, 0.6)
label(3, 2, 12.56, 113.6, "居住域"); arrow(3, 2, 10.81, 111, 8.09, 103.5)
label(3, 2, 13.54, 58, "天井裏"); arrow(3, 2, 11.69, 50.5, 8.42, 35.4)
label(3, 2, 14.08, -27.8, "床下"); arrow(3, 2, 12.78, -27.8, 8.42, -12.6)
# row 5
FCU_TXT = [("西FCU", 0), ("東FCU", 1), ("南FCU", 2), ("AHU", 3)]
ROW5_LAB = [
    (18.8, [178, 156, 134, 109], [(18.59, 182.8, 15.4, 99), (18.59, 160.7, 15.74, 77),
                                  (18.59, 138.6, 16.07, 62), (18.37, 114, 16.07, 40)]),
    (18.8, [181, 158.5, 136, 111], [(18.47, 186, 15.4, 98.5), (18.47, 163.5, 15.74, 76),
                                    (18.47, 141, 16.07, 61), (18.25, 113.5, 16.07, 38.5)]),
    (18.72, [181, 158.5, 136, 111], [(18.39, 186, 15.35, 98.5), (18.39, 163.5, 15.67, 76),
                                     (18.39, 141, 16.0, 61), (18.39, 108.5, 16.0, 36)]),
]
for c, (lx, lys, arrs) in enumerate(ROW5_LAB):
    for (txt, i) in FCU_TXT:
        label(4, c, lx, lys[i], txt, size=15, family=SERIF, xanchor="left")
        arrow(4, c, *arrs[i])

# row titles & x title
TITLE_Y = [167, 375, 562, 720, 906]
for t, yy in zip(ROW_TITLES, TITLE_Y):
    ann.append(dict(x=25 / W, y=1 - yy / H, xref="paper", yref="paper", text=t, showarrow=False,
                    textangle=-90, font=dict(size=21, family=SANS, color="#111"),
                    xanchor="center", yanchor="middle"))
for xx in [195, 483, 773]:
    ann.append(dict(x=xx / W, y=1 - 1009 / H, xref="paper", yref="paper", text="時刻",
                    showarrow=False, font=dict(size=17, family=JP, color="#111"),
                    xanchor="center", yanchor="middle"))

layout["annotations"] = ann
fig.update_layout(**layout)
fig.write_html("out.html")
